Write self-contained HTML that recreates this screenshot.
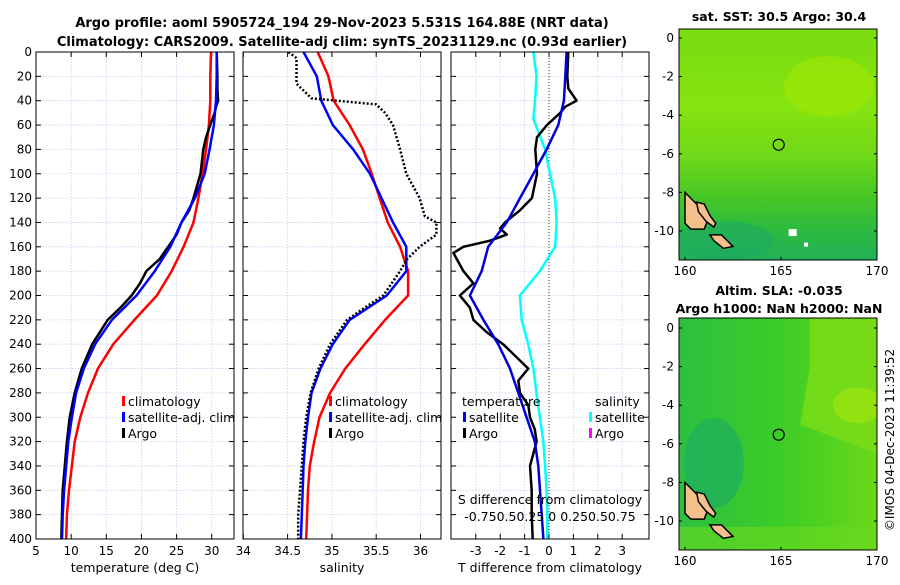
<!DOCTYPE html>
<html><head><meta charset="utf-8"><style>
body{margin:0;background:#fff;font-family:"Liberation Sans","DejaVu Sans",sans-serif;}
svg text{font-family:"DejaVu Sans","Liberation Sans",sans-serif;}
</style></head><body>
<svg id="fig" width="900" height="580" viewBox="0 0 900 580" xmlns="http://www.w3.org/2000/svg">
<rect width="900" height="580" fill="#fff"/>
<text x="342" y="27" text-anchor="middle" font-size="13" font-weight="bold">Argo profile: aoml 5905724_194 29-Nov-2023 5.531S 164.88E (NRT data)</text>
<text x="342" y="46" text-anchor="middle" font-size="13" font-weight="bold">Climatology: CARS2009. Satellite-adj clim: synTS_20231129.nc (0.93d earlier)</text>
<g id="p1"></g>
<g id="p2"></g>
<g id="p3"></g>
<g id="maps"></g>
<text transform="translate(894,440) rotate(-90)" text-anchor="middle" font-size="12">©IMOS 04-Dec-2023 11:39:52</text>
</svg>
<script>
const depthStd=[0,20,40,60,80,100,120,140,160,180,200,220,240,260,280,300,320,340,360,380,400];
const tempClim=[29.9,29.8,29.8,29.6,29.2,28.7,28.1,27.4,26.0,24.3,22.2,19.0,16.0,13.8,12.4,11.3,10.5,10.1,9.7,9.4,9.3];
const tempSat=[30.7,30.7,30.6,30.3,29.7,29.0,27.6,25.7,24.1,21.9,19.3,15.8,13.4,11.8,10.7,10.1,9.6,9.3,9.0,8.8,8.7];
const depthArgoT=[0,20,30,40,45,50,60,70,80,100,120,130,140,150,160,165,170,180,190,200,210,220,240,260,280,300,320,340,360,380,400];
const tempArgo=[30.7,30.8,30.8,30.9,30.6,30.4,29.8,29.2,28.8,28.4,27.4,26.8,25.7,25.0,23.8,23.2,22.6,20.7,19.8,18.6,17.0,15.2,13.0,11.5,10.5,9.8,9.4,9.1,8.8,8.7,8.6];
const salClim=[34.84,34.96,35.02,35.2,35.35,35.45,35.54,35.63,35.77,35.86,35.86,35.6,35.37,35.15,34.98,34.86,34.8,34.75,34.73,34.72,34.71];
const salSat=[34.68,34.83,34.88,35.01,35.24,35.43,35.56,35.69,35.84,35.84,35.62,35.2,35.01,34.87,34.77,34.73,34.7,34.68,34.67,34.66,34.65];
const depthArgoS=[0,5,26,38,43,50,60,80,100,120,135,140,150,160,170,180,200,210,220,240,260,280,300,320,340,360,380,400];
const salArgo=[34.51,34.6,34.6,34.77,35.5,35.6,35.69,35.77,35.84,35.99,36.05,36.18,36.18,35.99,35.85,35.77,35.58,35.37,35.17,34.98,34.85,34.76,34.71,34.68,34.66,34.64,34.62,34.62];
const tdiffSat=[0.72,0.67,0.61,0.38,-0.1,-0.64,-1.19,-1.73,-2.49,-2.76,-3.24,-2.69,-2.08,-1.6,-1.26,-0.92,-0.58,-0.44,-0.37,-0.3,-0.23];
const tdiffArgo=[0.79,0.75,0.79,1.13,0.66,0.46,-0.08,-0.49,-0.56,-0.49,-0.7,-1.19,-1.8,-2.01,-1.73,-2.42,-3.51,-3.92,-3.51,-3.1,-3.65,-3.24,-3.1,-2.56,-1.88,-0.85,-1.26,-1.19,-0.85,-0.78,-0.58,-0.51,-0.78,-0.71,-0.71,-0.67];
const depthArgoD=[0,20,30,40,45,50,60,70,80,100,120,130,140,145,150,155,160,165,180,190,200,210,220,230,240,260,270,280,290,300,310,320,340,360,380,400];
const depthSdiff=[0,20,40,55,80,100,120,140,160,180,200,220,240,260,280,300,320,340,360,380,400];
const sdiffSat=[-0.16,-0.128,-0.143,-0.16,-0.04,0.01,0.063,0.078,0.063,-0.093,-0.298,-0.28,-0.213,-0.16,-0.128,-0.093,-0.058,-0.04,-0.025,-0.018,-0.018];
const depthTicks=[0,20,40,60,80,100,120,140,160,180,200,220,240,260,280,300,320,340,360,380,400];
const tempTicks=[5,10,15,20,25,30,35];
const salTicks=[34,34.5,35,35.5,36];
const tdiffTicks=[-3,-2,-1,0,1,2,3];
const sdiffLabels=["-0.75","0.5","0.25","0","0.25","0.5","0.75"];

const NS="http://www.w3.org/2000/svg";
function mk(parent,tag,attrs){const e=document.createElementNS(NS,tag);for(const k in attrs)e.setAttribute(k,attrs[k]);parent.appendChild(e);return e;}
const Y0=52,Y1=539;
const yS=d=>Y0+(d/400)*(Y1-Y0);
function panel(g,x0,x1,xs,xticks,xlabels,xtitle,showY,showXgridVals){
  mk(g,'rect',{x:x0,y:Y0,width:x1-x0,height:Y1-Y0,fill:'#fff'});
  depthTicks.forEach(d=>{const y=yS(d);
    const l=mk(g,'line',{x1:x0,x2:x1,y1:y,y2:y,stroke:'#c4cfee','stroke-width':0.8,'stroke-dasharray':'1.5,1.5'});
    
    mk(g,'line',{x1:x0,x2:x0+5,y1:y,y2:y,stroke:'#000'});mk(g,'line',{x1:x1-5,x2:x1,y1:y,y2:y,stroke:'#000'});
    if(showY){const t=mk(g,'text',{x:x0-4,y:y+4,'text-anchor':'end','font-size':12});t.textContent=d;
      }
  });
  xticks.forEach((v,i)=>{const x=xs(v);if(x<x0-1||x>x1+1)return;
    const l=mk(g,'line',{x1:x,x2:x,y1:Y0,y2:Y1,stroke:'#c4cfee','stroke-width':0.8,'stroke-dasharray':'1.5,1.5'});
    
    mk(g,'line',{x1:x,x2:x,y1:Y1,y2:Y1-5,stroke:'#000'});mk(g,'line',{x1:x,x2:x,y1:Y0,y2:Y0+5,stroke:'#000'});});
  xticks.forEach((v,i)=>{const x=xs(v);if(x<x0-8||x>x1+8)return;
    const t=mk(g,'text',{x:x,y:555,'text-anchor':'middle','font-size':12});t.textContent=xlabels[i];
    });
  const tt=mk(g,'text',{x:(x0+x1)/2,y:572,'text-anchor':'middle','font-size':12.5});tt.textContent=xtitle;
  
}
function border(g,x0,x1){const r=mk(g,'rect',{x:x0,y:Y0,width:x1-x0,height:Y1-Y0,fill:'none',stroke:'#000','stroke-width':1});
  }
function line(g,xs,vals,deps,color,w,dash,name,clip){
  const pts=vals.map((v,i)=>xs(v).toFixed(1)+','+yS(deps[i]).toFixed(1)).join(' ');
  const p=mk(g,'polyline',{points:pts,fill:'none',stroke:color,'stroke-width':w,'stroke-linejoin':'round'});
  if(dash)p.setAttribute('stroke-dasharray',dash);
  if(clip)p.setAttribute('clip-path',clip);
  
}
function legend(g,x,y,color,label,name){
  mk(g,'rect',{x:x,y:y-10,width:3,height:10,fill:color});
  const t=mk(g,'text',{x:x+6,y:y,'font-size':12.5});t.textContent=label;
  
}
// clip paths
const defs=mk(document.getElementById('fig'),'defs',{});
[['c1',36,234],['c2',243,441],['c3',451,649]].forEach(([id,a,b])=>{const c=mk(defs,'clipPath',{id:id});mk(c,'rect',{x:a,y:Y0,width:b-a,height:Y1-Y0});});

// Panel 1
const g1=document.getElementById('p1');
const xT=v=>36+(v-5)*7.03;
panel(g1,36,234,xT,tempTicks,tempTicks.map(String),'temperature (deg C)',true);
line(g1,xT,tempClim,depthStd,'#ff0000',2.5,null,'temp-climatology-line','url(#c1)');
line(g1,xT,tempArgo,depthArgoT,'#000',2.5,null,'temp-argo-line','url(#c1)');
line(g1,xT,tempSat,depthStd,'#0000ff',2.5,null,'temp-satellite-line','url(#c1)');
legend(g1,122,406,'#ff0000','climatology','legend-climatology');
legend(g1,122,422,'#0000ff','satellite-adj. clim','legend-satellite');
legend(g1,122,438,'#000','Argo','legend-argo');
border(g1,36,234);

// Panel 2
const g2=document.getElementById('p2');
const xS=v=>243.3+(v-34)*88.6;
panel(g2,243,441,xS,salTicks,salTicks.map(String),'salinity',false);
line(g2,xS,salClim,depthStd,'#ff0000',2.5,null,'sal-climatology-line','url(#c2)');
line(g2,xS,salSat,depthStd,'#0000ff',2.5,null,'sal-satellite-line','url(#c2)');
line(g2,xS,salArgo,depthArgoS,'#000',2.5,'2,2','sal-argo-line','url(#c2)');
legend(g2,329,406,'#ff0000','climatology','legend-climatology');
legend(g2,329,422,'#0000ff','satellite-adj. clim','legend-satellite');
legend(g2,329,438,'#000','Argo','legend-argo');
border(g2,243,441);

// Panel 3
const g3=document.getElementById('p3');
const xD=v=>549+v*24.4;
const xSD=v=>549+v*4*24.4;
panel(g3,451,649,xD,tdiffTicks,tdiffTicks.map(String),'T difference from climatology',false);
const zl=mk(g3,'line',{x1:xD(0),x2:xD(0),y1:Y0,y2:Y1,stroke:'#333','stroke-width':1,'stroke-dasharray':'1,2'});

line(g3,xSD,sdiffSat,depthSdiff,'#00ffff',2.5,null,'sal-diff-satellite-line','url(#c3)');
line(g3,xD,tdiffArgo,depthArgoD,'#000',2.5,null,'temp-diff-argo-line','url(#c3)');
line(g3,xD,tdiffSat,depthStd,'#0000dd',2.5,null,'temp-diff-satellite-line','url(#c3)');
let t=mk(g3,'text',{x:462,y:406,'font-size':12.5});t.textContent='temperature';

t=mk(g3,'text',{x:595,y:406,'font-size':12.5});t.textContent='salinity';

legend(g3,463,422,'#0000ff','satellite','legend-temp-satellite');
legend(g3,463,438,'#000','Argo','legend-temp-argo');
legend(g3,589,422,'#00ffff','satellite','legend-sal-satellite');
legend(g3,589,438,'#ff00ff','Argo','legend-sal-argo');
t=mk(g3,'text',{x:550,y:504,'text-anchor':'middle','font-size':12.5});t.textContent='S difference from climatology';

t=mk(g3,'text',{x:550,y:521,'text-anchor':'middle','font-size':12.5});t.textContent='-0.750.50.25 0  0.250.50.75';

border(g3,451,649);

// Maps
const gm=document.getElementById('maps');
const mdefs=mk(gm,'defs',{});
let lg=mk(mdefs,'linearGradient',{id:'sst',x1:0,y1:0,x2:0,y2:1});
[[0,'#78dc10'],[0.35,'#86e410'],[0.55,'#70d818'],[0.72,'#48c826'],[0.85,'#30bc3c'],[1,'#20b058']].forEach(([o,c])=>mk(lg,'stop',{offset:o,'stop-color':c}));
lg=mk(mdefs,'linearGradient',{id:'sla',x1:0,y1:0,x2:1,y2:0});
[[0,'#2cc040'],[0.5,'#3ccc28'],[1,'#6ad818']].forEach(([o,c])=>mk(lg,'stop',{offset:o,'stop-color':c}));
function map(y0,y1,lat0y,lat10y,title1,title2,fill,isSla){
  const x0=679,x1=877;const lon=v=>685+(v-160)*19.2;const lat=v=>lat0y+(v/-10)*(lat10y-lat0y);
  const cp=mk(mdefs,'clipPath',{id:'mc'+y0});mk(cp,'rect',{x:x0,y:y0,width:x1-x0,height:y1-y0});
  const g=mk(gm,'g',{'clip-path':'url(#mc'+y0+')'});
  
  mk(g,'rect',{x:x0,y:y0,width:x1-x0,height:y1-y0,fill:fill});
  if(isSla){
    mk(g,'path',{d:`M${lon(166.5)},${y0} L${x1},${y0} L${x1},${lat(-6.5)} L${lon(166)},${lat(-5)} L${lon(166.5)},${lat(-2)} Z`,fill:'#78dc18',opacity:0.85});
    mk(g,'ellipse',{cx:lon(169),cy:lat(-4),rx:25,ry:18,fill:'#9ae410',opacity:0.8});
    mk(g,'ellipse',{cx:lon(161.5),cy:lat(-7),rx:30,ry:45,fill:'#1eae60',opacity:0.7});
    mk(g,'rect',{x:x0,y:lat(-10.3),width:x1-x0,height:30,fill:'#6ad820',opacity:0.6});
  } else {
    mk(g,'ellipse',{cx:lon(167.5),cy:lat(-2.5),rx:45,ry:30,fill:'#a8e800',opacity:0.5});
    mk(g,'ellipse',{cx:lon(162),cy:lat(-10.5),rx:50,ry:20,fill:'#1aa868',opacity:0.5});
  }
  const isl=[[[160,-8],[160.6,-8.6],[161,-9],[161.2,-9.4],[161,-9.9],[160.3,-9.9],[160,-9.6]],
             [[160.6,-8.5],[161,-8.6],[161.3,-9.2],[161.6,-9.6],[161.5,-9.8],[161.1,-9.5],[160.7,-9]],
             [[161.3,-10.2],[161.9,-10.2],[162.3,-10.6],[162.5,-10.8],[162,-10.9],[161.5,-10.5]]];
  isl.forEach(p=>{const e=mk(g,'polygon',{points:p.map(q=>lon(q[0])+','+lat(q[1])).join(' '),fill:'#f4c08c',stroke:'#000','stroke-width':1.5});
    });
  if(!isSla){mk(g,'rect',{x:lon(165.4),y:lat(-9.9),width:8,height:7,fill:'#fff'});mk(g,'rect',{x:lon(166.2),y:lat(-10.6),width:4,height:4,fill:'#fff'});}
  const c=mk(gm,'circle',{cx:lon(164.88),cy:lat(-5.531),r:5.5,fill:'none',stroke:'#000','stroke-width':1.2});
  
  const b=mk(gm,'rect',{x:x0,y:y0,width:x1-x0,height:y1-y0,fill:'none',stroke:'#000','stroke-width':1});
  
  [0,-2,-4,-6,-8,-10].forEach(v=>{const y=lat(v);mk(gm,'line',{x1:x0,x2:x0+3,y1:y,y2:y,stroke:'#000'});mk(gm,'line',{x1:x1-3,x2:x1,y1:y,y2:y,stroke:'#000'});
    const tt=mk(gm,'text',{x:x0-5,y:y+4,'text-anchor':'end','font-size':12});tt.textContent=v;
    });
  [160,165,170].forEach(v=>{const x=lon(v);mk(gm,'line',{x1:x,x2:x,y1:y1,y2:y1-3,stroke:'#000'});
    const tt=mk(gm,'text',{x:x,y:y1+15,'text-anchor':'middle','font-size':12});tt.textContent=v;
    });
  let tt=mk(gm,'text',{x:779,y:title2?y0-23:y0-8,'text-anchor':'middle','font-size':12.5,'font-weight':'bold'});tt.textContent=title1;
  
  if(title2){tt=mk(gm,'text',{x:779,y:y0-5,'text-anchor':'middle','font-size':12.5,'font-weight':'bold'});tt.textContent=title2;
    }
}
map(29,260,38,231,'sat. SST: 30.5 Argo: 30.4',null,'url(#sst)',false);
map(318,550,328,521,'Altim. SLA: -0.035','Argo h1000: NaN h2000: NaN','url(#sla)',true);
</script>
</body></html>
